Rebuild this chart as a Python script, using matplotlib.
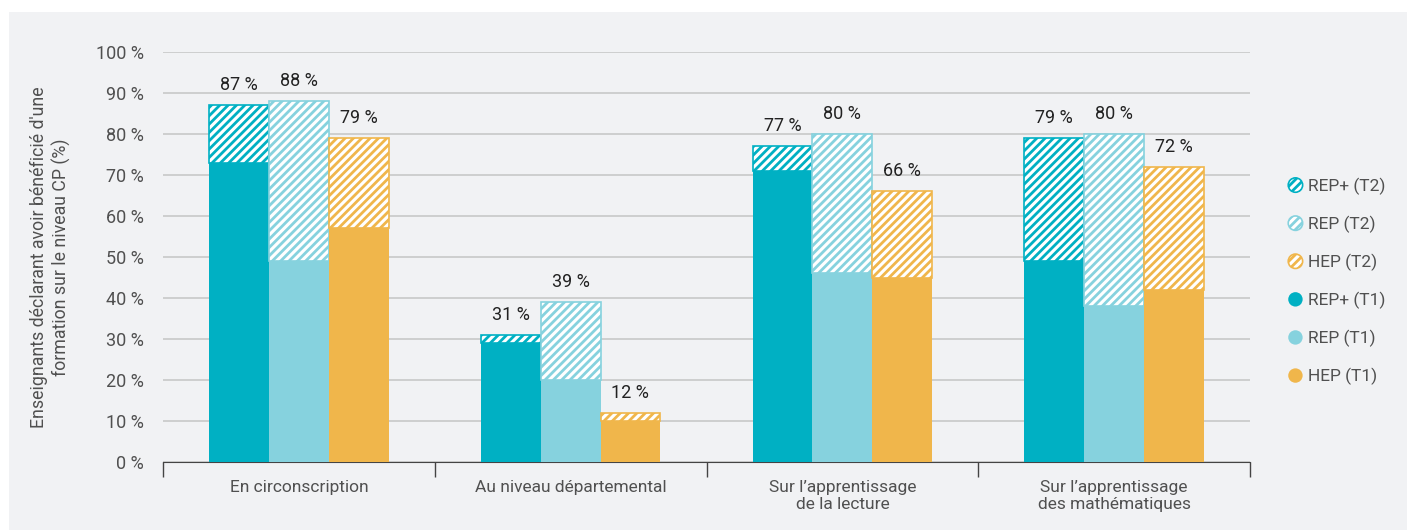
import matplotlib
matplotlib.use("Agg")
import matplotlib.pyplot as plt
import numpy as np
from matplotlib.patches import Patch, Circle
from matplotlib.legend_handler import HandlerPatch

plt.rcParams['font.family'] = ['Roboto', 'DejaVu Sans']
plt.rcParams['hatch.linewidth'] = 2.0

categories = ["En circonscription", "Au niveau départemental",
              "Sur l\u2019apprentissage\nde la lecture", "Sur l\u2019apprentissage\ndes mathématiques"]
groups = ["REP+", "REP", "HEP"]
# T1 values and T2 totals (%), per group, per category
t1 = {"REP+": [73, 29, 71, 49], "REP": [49, 20, 46, 38], "HEP": [57, 10, 45, 42]}
t2 = {"REP+": [87, 31, 77, 79], "REP": [88, 39, 80, 80], "HEP": [79, 12, 66, 72]}
colors = {"REP+": "#00b0c3", "REP": "#86d2de", "HEP": "#f0b64b"}
yticks = list(range(0, 101, 10))

bg = "#f1f2f4"
txt = "#505050"
fig = plt.figure(figsize=(14.07, 5.30), dpi=100, facecolor="white")
fig.patches.append(plt.Rectangle((9/1407, 0), 1, 1 - 12/530, transform=fig.transFigure,
                                 facecolor=bg, edgecolor="none", zorder=-10))
ax = fig.add_axes([163/1407, 1 - 462/530, (1250-163)/1407, (462-52)/530])
ax.set_facecolor(bg)

x = np.arange(len(categories))
w = 0.22
offsets = [-w, 0, w]
for g, off in zip(groups, offsets):
    base = np.array(t1[g])
    tot = np.array(t2[g])
    ax.bar(x + off, base, w, color=colors[g], edgecolor="none", zorder=3)
    ax.bar(x + off, tot - base, w, bottom=base, facecolor="white", edgecolor=colors[g],
           hatch="////", linewidth=1.2, zorder=3)
    for xi, v in zip(x + off, tot):
        ax.annotate(f"{v} %", (xi, v), xytext=(0, 8), textcoords="offset points",
                    ha="center", va="bottom", fontsize=13, color="#222222")

ax.set_ylim(0, 100)
ax.set_xlim(-0.5, 3.5)
ax.set_yticks(yticks)
ax.set_yticklabels([f"{t} %" for t in yticks], fontsize=13, color=txt)
ax.tick_params(axis="y", length=0, pad=14)
ax.yaxis.grid(True, color="#c8c8c8", linewidth=1.2, zorder=0)
ax.set_axisbelow(True)

ax.set_xticks(np.arange(-0.5, 4, 1))
ax.set_xticklabels([])
ax.tick_params(axis="x", which="major", length=11, width=1, color="#444444", direction="out")
ax.set_xticks(x, minor=True)
ax.set_xticklabels(categories, minor=True, fontsize=12.5, color=txt)
ax.tick_params(axis="x", which="minor", length=0, pad=13)

for s in ["top", "right", "left"]:
    ax.spines[s].set_visible(False)
ax.spines["bottom"].set_color("#444444")

ax.set_ylabel("Enseignants déclarant avoir bénéficié d'une\nformation sur le niveau CP (%)",
              fontsize=12.8, color=txt, labelpad=18)


def make_circle(legend, orig_handle, xdescent, ydescent, width, height, fontsize):
    r = min(width, height) / 2
    return Circle((width / 2 - xdescent, height / 2 - ydescent), r)


handles = []
labels = []
for g in groups:
    handles.append(Patch(facecolor="white", edgecolor=colors[g], hatch="////", linewidth=1.2))
    labels.append(f"{g} (T2)")
for g in groups:
    handles.append(Patch(facecolor=colors[g], edgecolor="none"))
    labels.append(f"{g} (T1)")

leg = fig.legend(handles, labels, loc="upper left", bbox_to_anchor=(1272/1407, 1 - 162/530),
                 frameon=False, fontsize=12.5, labelspacing=1.2, handlelength=0.9,
                 handleheight=0.9, handletextpad=0.3,
                 handler_map={Patch: HandlerPatch(patch_func=make_circle)})
for t in leg.get_texts():
    t.set_color(txt)

fig.savefig("out.png", dpi=100, facecolor=fig.get_facecolor())
